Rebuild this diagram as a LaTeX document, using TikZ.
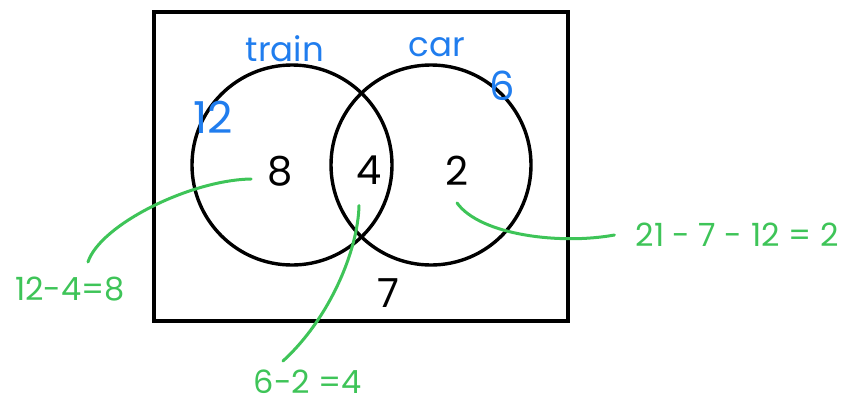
\documentclass[tikz,border=0pt]{standalone}
\usepackage{fontspec}
\setmainfont{Poppins}
\usepackage{tikz}
\usetikzlibrary{positioning, calc}
\definecolor{penblue}{RGB}{32,125,238}
\definecolor{pengreen}{RGB}{62,196,88}

\begin{document}
\begin{tikzpicture}[x=1pt, y=-1pt,
  set/.style={draw, circle, line width=3.4pt, minimum size=200pt, inner sep=0pt},
  num/.style={font=\fontsize{40}{40}\selectfont, inner sep=2pt},
  tag/.style={text=penblue, font=\fontsize{34}{34}\selectfont, inner sep=1pt},
  note/.style={text=pengreen, font=\fontsize{32}{32}\selectfont, inner sep=1pt, text depth=0pt},
  link/.style={draw=pengreen, line width=3pt, line cap=round}]
\useasboundingbox (0,0) rectangle (845,405);
\node[draw, line width=4pt, minimum width=414pt, minimum height=309pt, inner sep=0pt]
  (frame) at (361,166.5) {};
\node[set] (train) at (292,165) {};
\node[set] (car) at (431,165) {};
\node[tag] (ltrain) at (285,49) {train};
\node[tag] (lcar) at (437,47) {car};
\node[tag, font=\fontsize{44}{44}\selectfont] (ntrain) at (213,117) {12};
\node[tag, font=\fontsize{40}{40}\selectfont] (ncar) at (502,86) {6};
\node[num] (n8) at (280,171) {8};
\node[num] (n4) at (369,170) {4};
\node[num] (n2) at (457,171) {2};
\node[num] (n7) at (388,293) {7};
\node[note] (l8) at (70,289) {12-4=8};
\node[note] (l4) at (308,382) {6-2 =4};
\node[note] (l2) at (737,235) {21 - 7 - 12 = 2};
\draw[link] ($(n8.west)+(-14,8)$) .. controls (190,180) and (100,225) .. ($(l8.north)+(18,-14)$);
\draw[link] ($(n4.south)+(-10,19)$) .. controls (358,250) and (330,318) .. ($(l4.north)+(-25,-8)$);
\draw[link] ($(n2.south)+(0,15)$) .. controls (480,235) and (560,245) .. ($(l2.west)+(-20,0)$);
\end{tikzpicture}
\end{document}
